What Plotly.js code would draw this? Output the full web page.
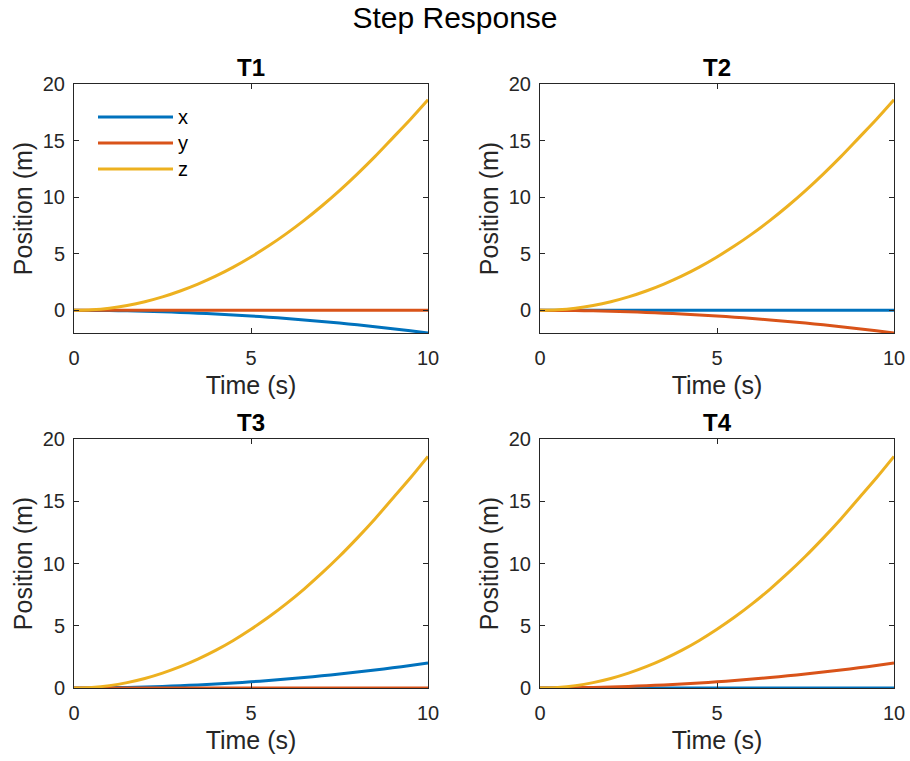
<!DOCTYPE html>
<html>
<head>
<meta charset="utf-8">
<script src="https://cdn.plot.ly/plotly-3.0.1.min.js"></script>
<style>html,body{margin:0;padding:0;background:#fff;}#chart{width:910px;height:761px;}</style>
</head>
<body>
<div id="chart"></div>
<script>
// Time samples (s)
const time = [0,0.5,1,1.5,2,2.5,3,3.5,4,4.5,5,5.5,6,6.5,7,7.5,8,8.5,9,9.5,10];
// Large vertical response (z)
const zResp = [0,0.05,0.19,0.43,0.76,1.19,1.71,2.32,3.02,3.82,4.72,5.70,6.78,7.95,9.22,10.58,12.04,13.58,15.22,16.86,18.6];
// Small drift response
const drift = [0,0.005,0.02,0.045,0.08,0.125,0.18,0.245,0.32,0.405,0.5,0.605,0.72,0.845,0.98,1.125,1.28,1.445,1.62,1.805,2.0];
const flat = [0,0,0,0,0,0,0,0,0,0,0,0,0,0,0,0,0,0,0,0,0];
const negDrift = drift.map(v => -v);

const panels = ["T1","T2","T3","T4"];
const seriesNames = ["x","y","z"];
const colors = ["#0072BD","#D95319","#EDB120"];
// per panel: x, y, z series
const panelData = [
  [negDrift, flat, zResp],
  [flat, negDrift, zResp],
  [drift, flat, zResp],
  [flat, drift, zResp]
];
const yRanges = [[-2,20],[-2,20],[0,20],[0,20]];
const xTicks = [0,5,10];
const yTicks = [0,5,10,15,20];

const W = 910, H = 761;
const xDom = [[74/W, 428/W],[540/W, 894/W]];
const yDom = [[1-333/H, 1-84/H],[1-688/H, 1-439/H]];

const traces = [];
const layout = {
  width: W, height: H,
  margin: {l:0, r:0, t:0, b:0},
  paper_bgcolor: "#ffffff",
  plot_bgcolor: "#ffffff",
  showlegend: false,
  font: {family: "Liberation Sans, Arial, sans-serif", color: "#262626", size: 20},
  title: {text: "Step Response", x: 0.5, xanchor: "center", y: 1-17/H, yanchor: "middle",
          font: {size: 30, color: "#000000", family: "Liberation Sans, Arial, sans-serif"}},
  annotations: [],
  shapes: []
};

panels.forEach((name, i) => {
  const ax = i + 1;
  const sfx = ax === 1 ? "" : String(ax);
  const col = i % 2, row = Math.floor(i / 2);
  panelData[i].forEach((vals, k) => {
    traces.push({
      x: time, y: vals, type: "scatter", mode: "lines",
      name: seriesNames[k], line: {color: colors[k], width: 3, shape: "spline", smoothing: 0.8},
      xaxis: "x" + sfx, yaxis: "y" + sfx,
      showlegend: false
    });
  });
  const common = {
    showgrid: false, zeroline: false, showline: true, mirror: "ticks",
    linecolor: "#262626", linewidth: 1, ticks: "inside", ticklen: 5,
    tickcolor: "#262626", tickfont: {size: 20, color: "#262626"},
  };
  layout["xaxis" + sfx] = Object.assign({}, common, {
    domain: xDom[col], range: [0,10], tickvals: xTicks, ticktext: xTicks.map(String),
    anchor: "y" + sfx,
    title: {text: "Time (s)", font: {size: 25, color: "#262626"}, standoff: 8},
    ticklabelstandoff: 7
  });
  layout["yaxis" + sfx] = Object.assign({}, common, {
    domain: yDom[row], range: yRanges[i], tickvals: yTicks, ticktext: yTicks.map(String),
    anchor: "x" + sfx,
    title: {text: "Position (m)", font: {size: 25, color: "#262626"}, standoff: 3},
    ticklabelstandoff: 4
  });
  layout.annotations.push({
    text: "<b>" + name + "</b>", xref: "x" + sfx + " domain",
    yref: "y" + sfx + " domain", x: 0.5, y: 1, yanchor: "bottom",
    xanchor: "center", showarrow: false, yshift: 1,
    font: {size: 24, color: "#000000"}
  });
});

// Legend inside T1 (upper-left), drawn as line samples with text labels
const legY = [0.867, 0.763, 0.659];
seriesNames.forEach((nm, k) => {
  layout.shapes.push({
    type: "line", xref: "x domain", yref: "y domain",
    x0: 24/354, x1: 99/354, y0: legY[k], y1: legY[k],
    line: {color: colors[k], width: 3}
  });
  layout.annotations.push({
    text: nm, xref: "x domain", yref: "y domain", x: 102/354, y: legY[k],
    xanchor: "left", yanchor: "middle", showarrow: false,
    font: {size: 20, color: "#000000"}
  });
});

Plotly.newPlot("chart", traces, layout, {staticPlot: true, displayModeBar: false});
</script>
</body>
</html>
